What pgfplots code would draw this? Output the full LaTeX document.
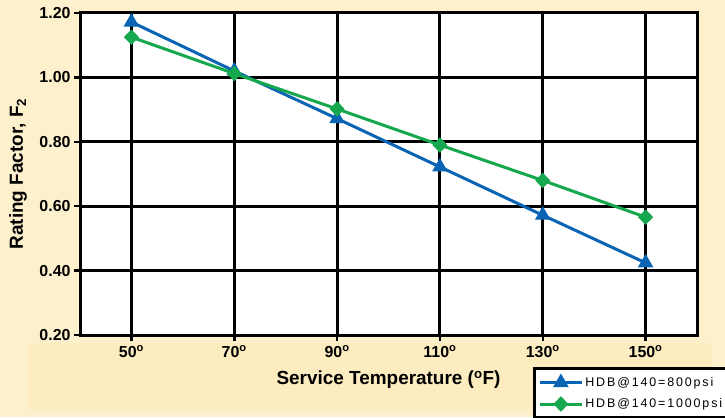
\documentclass[border=0pt]{standalone}
\usepackage{fontspec}
\setmainfont{Liberation Sans}
\usepackage{pgfplots}
\pgfplotsset{compat=1.18}
\definecolor{bg}{RGB}{253,240,205}
\definecolor{bginner}{RGB}{253,236,192}
\definecolor{myblue}{RGB}{10,100,180}
\definecolor{mygreen}{RGB}{22,168,78}
\begin{document}
\begin{tikzpicture}[x=1bp,y=1bp]
\fill[bg] (0,0) rectangle (725,417);
\fill[bginner] (28,7) rectangle (712,74);
\begin{axis}[
  at={(80bp,82bp)}, anchor=south west,
  scale only axis, width=617bp, height=322bp,
  xmin=40, xmax=160, ymin=0.2, ymax=1.2,
  xtick={50,70,90,110,130,150},
  xticklabels={50\textsuperscript{o},70\textsuperscript{o},90\textsuperscript{o},110\textsuperscript{o},130\textsuperscript{o},150\textsuperscript{o}},
  ytick={0.2,0.4,0.6,0.8,1.0,1.2},
  yticklabels={0.20,0.40,0.60,0.80,1.00,1.20},
  xtick pos=bottom, ytick pos=left,
  tick align=outside, major tick length=6bp,
  tick style={black, line width=2.5bp},
  grid=major, major grid style={black, line width=3bp},
  axis line style={black, line width=3bp},
  axis background/.style={fill=white},
  ticklabel style={font=\bfseries\fontsize{16}{18}\selectfont},
  xticklabel style={yshift=-1bp},
  xlabel={Service Temperature (\textsuperscript{o}F)},
  ylabel={Rating Factor, F\textsubscript{2}},
  label style={font=\bfseries\fontsize{19}{21}\selectfont},
  xlabel style={at={(axis description cs:0.5,-0.14)}, anchor=center},
  ylabel style={at={(axis description cs:-0.1005,0.5)}, anchor=center, rotate=0},
  legend style={at={(0.734,-0.0994)}, anchor=north west, draw=black,
    line width=3bp, fill=white, inner xsep=4bp, inner ysep=6bp,
    font=\addfontfeatures{LetterSpace=15}\fontsize{12.5}{14}\selectfont,
    row sep=7bp},
  legend cell align=left,
  legend image code/.code={\draw[mark repeat=2,mark phase=2,#1] plot coordinates {(0bp,0bp) (21bp,0bp) (42bp,0bp)};},
]
\addplot[myblue, line width=3bp, mark=triangle*, mark size=8bp, mark options={line width=1bp}]
  coordinates {(50,1.172) (70,1.020) (90,0.872) (110,0.722) (130,0.572) (150,0.424)};
\addlegendentry{HDB@140=800psi}
\addplot[mygreen, line width=3bp, mark=diamond*, mark size=7bp, mark options={line width=1bp, xscale=1.3}]
  coordinates {(50,1.125) (70,1.012) (90,0.902) (110,0.790) (130,0.680) (150,0.566)};
\addlegendentry{HDB@140=1000psi}
\end{axis}
\pgfresetboundingbox
\useasboundingbox (0,0) rectangle (725,417);
\end{tikzpicture}
\end{document}
